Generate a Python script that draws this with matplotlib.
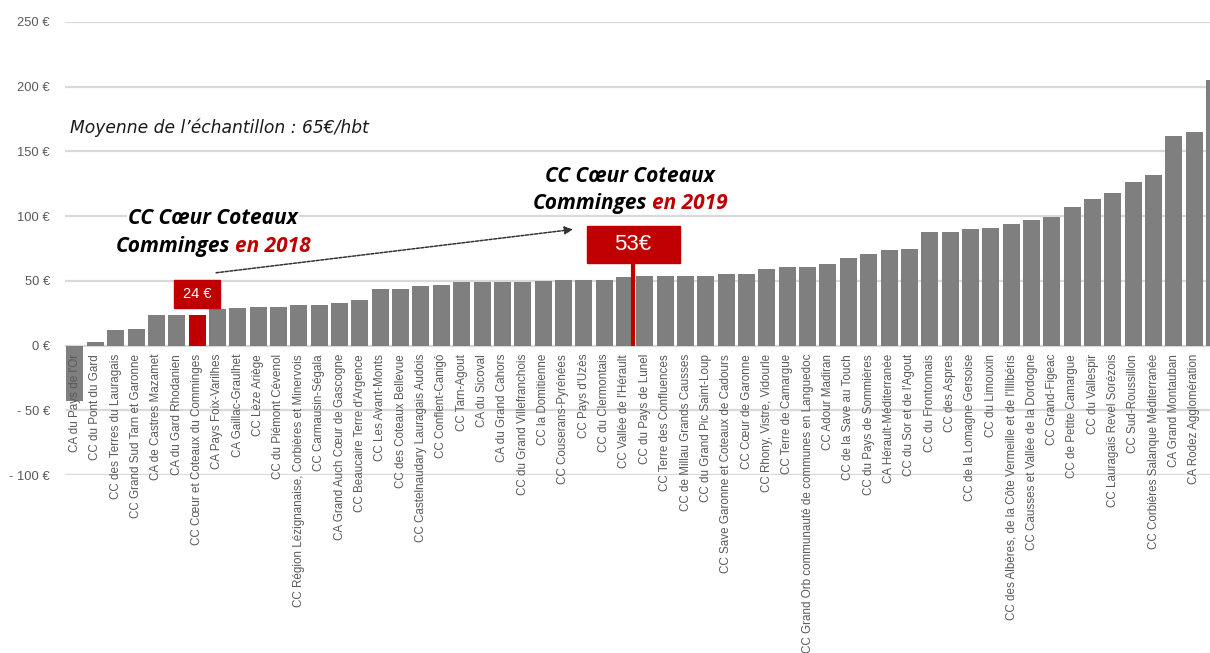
import matplotlib.pyplot as plt
from matplotlib.patches import Rectangle
from matplotlib.transforms import offset_copy

# Données : coût par habitant (EUR/hbt) par EPCI
epci = [
    "CA du Pays de l'Or", "CC du Pont du Gard", "CC des Terres du Lauragais",
    "CC Grand Sud Tarn et Garonne", "CA de Castres Mazamet", "CA du Gard Rhodanien",
    "CC Cœur et Coteaux du Comminges", "CA Pays Foix-Varilhes", "CA Gaillac-Graulhet",
    "CC Lèze Ariège", "CC du Piémont Cévenol", "CC Région Lézignanaise, Corbières et Minervois",
    "CC Carmausin-Ségala", "CA Grand Auch Cœur de Gascogne", "CC Beaucaire Terre d'Argence",
    "CC Les Avant-Monts", "CC des Coteaux Bellevue", "CC Castelnaudary Lauragais Audois",
    "CC Conflent-Canigó", "CC Tarn-Agout", "CA du Sicoval", "CA du Grand Cahors",
    "CC du Grand Villefranchois", "CC la Domitienne", "CC Couserans-Pyrénées",
    "CC Pays d'Uzès", "CC du Clermontais", "CC Vallée de l'Hérault", "CC du Pays de Lunel",
    "CC Terre des Confluences", "CC de Millau Grands Causses", "CC du Grand Pic Saint-Loup",
    "CC Save Garonne et Coteaux de Cadours", "CC Cœur de Garonne", "CC Rhony, Vistre, Vidourle",
    "CC Terre de Camargue", "CC Grand Orb communauté de communes en Languedoc",
    "CC Adour Madiran", "CC de la Save au Touch", "CC du Pays de Sommières",
    "CA Hérault-Méditerranée", "CC du Sor et de l'Agout", "CC du Frontonnais", "CC des Aspres",
    "CC de la Lomagne Gersoise", "CC du Limouxin",
    "CC des Albères, de la Côte Vermeille et de l'Illibéris",
    "CC Causses et Vallée de la Dordogne", "CC Grand-Figeac", "CC de Petite Camargue",
    "CC du Vallespir", "CC Lauragais Revel Sorézois", "CC Sud-Roussillon",
    "CC Corbières Salanque Méditerranée", "CA Grand Montauban", "CA Rodez Agglomération", "",
]
valeurs = [
    -43, 3, 12, 13, 24, 24, 24, 28, 29, 30, 30, 31, 31, 33, 35, 44, 44, 46, 47, 49,
    49, 49, 49, 50, 51, 51, 51, 53, 54, 54, 54, 54, 55, 55, 59, 61, 61, 63, 68, 71,
    74, 75, 88, 88, 90, 91, 94, 97, 99, 107, 113, 118, 126, 132, 162, 165, 205,
]
y_ticks = [-100, -50, 0, 50, 100, 150, 200, 250]
y_labels = ["- 100 €", "- 50 €", "0 €", "50 €", "100 €", "150 €", "200 €", "250 €"]

cible = 6          # CC Cœur et Coteaux du Comminges
valeur_2018 = 24
valeur_2019 = 53
moyenne = 65

gris = "#7f7f7f"
rouge = "#c00000"
police = "Open Sans"
fond = dict(facecolor="white", edgecolor="none", pad=1)

fig = plt.figure(figsize=(12.1, 6.53), dpi=100)
ax = fig.add_axes([65 / 1210, 178 / 653, 1145 / 1210, 453 / 653])

x = list(range(len(valeurs)))
couleurs = [rouge if i == cible else gris for i in x]
ax.bar(x, valeurs, width=0.835, color=couleurs, zorder=2)

ax.set_xlim(-0.49, 55.77)
ax.set_ylim(-100, 250)
ax.set_yticks(y_ticks)
ax.set_yticklabels(y_labels)
ax.set_xticks([])
ax.grid(axis="y", color="#d9d9d9", linewidth=1.6, zorder=0)
ax.set_axisbelow(True)
for s in ax.spines.values():
    s.set_visible(False)
ax.tick_params(axis="y", length=0, pad=11, labelsize=9.3, labelcolor="#595959")
for t in ax.get_yticklabels():
    t.set_fontfamily("Liberation Sans")

# libellés des EPCI sous l'axe 0, au-dessus des barres
trans = offset_copy(ax.transData, fig=fig, x=0, y=-6, units="points")
for i, nom in enumerate(epci):
    ax.text(i, 0, nom, rotation=90, ha="center", va="top", fontsize=8.4,
            family="Liberation Sans", color="#595959", transform=trans,
            zorder=5, clip_on=False)

# moyenne
ax.text(-0.25, 168, f"Moyenne de l’échantillon : {moyenne}€/hbt", fontsize=12.3,
        style="italic", family="DejaVu Sans", color="#1a1a1a", va="center", ha="left")

# étiquette 2018
ax.add_patch(Rectangle((cible - 1.15, 29), 2.3, 21.5, color=rouge, zorder=3))
ax.text(cible, 39.8, f"{valeur_2018} €", color="white", fontsize=10.5, family="Liberation Sans",
        ha="center", va="center", zorder=4)
ax.text(6.78, 98.5, "CC Cœur Coteaux", fontsize=15, weight="bold", style="italic",
        family=police, ha="center", va="center", bbox=fond, zorder=4)
ax.text(7.6, 76.5, "Comminges", fontsize=15, weight="bold", style="italic",
        family=police, ha="right", va="center")
ax.text(7.85, 76.5, "en 2018", fontsize=15, weight="bold", style="italic",
        family=police, ha="left", va="center", color=rouge)

# étiquette 2019
x19 = 27.44
ax.vlines(x19, 0, 64, color=rouge, linewidth=3, zorder=3)
ax.add_patch(Rectangle((x19 - 2.28, 64), 4.56, 28.5, color=rouge, zorder=3))
ax.text(x19 - 0.05, 78.3, f"{valeur_2019}€", color="white", fontsize=16, family="Liberation Sans",
        ha="center", va="center", zorder=4)
ax.text(27.27, 131, "CC Cœur Coteaux", fontsize=15, weight="bold", style="italic",
        family=police, ha="center", va="center")
ax.text(28.1, 109.5, "Comminges", fontsize=15, weight="bold", style="italic",
        family=police, ha="right", va="center")
ax.text(28.35, 109.5, "en 2019", fontsize=15, weight="bold", style="italic",
        family=police, ha="left", va="center", color=rouge)

# flèche
ax.annotate("", xy=(24.6, 90), xytext=(6.8, 56),
            arrowprops=dict(arrowstyle="-|>", linestyle=(0, (2, 1)), color="#333333",
                            linewidth=1.1, mutation_scale=12))

fig.savefig("out.png", dpi=100)
